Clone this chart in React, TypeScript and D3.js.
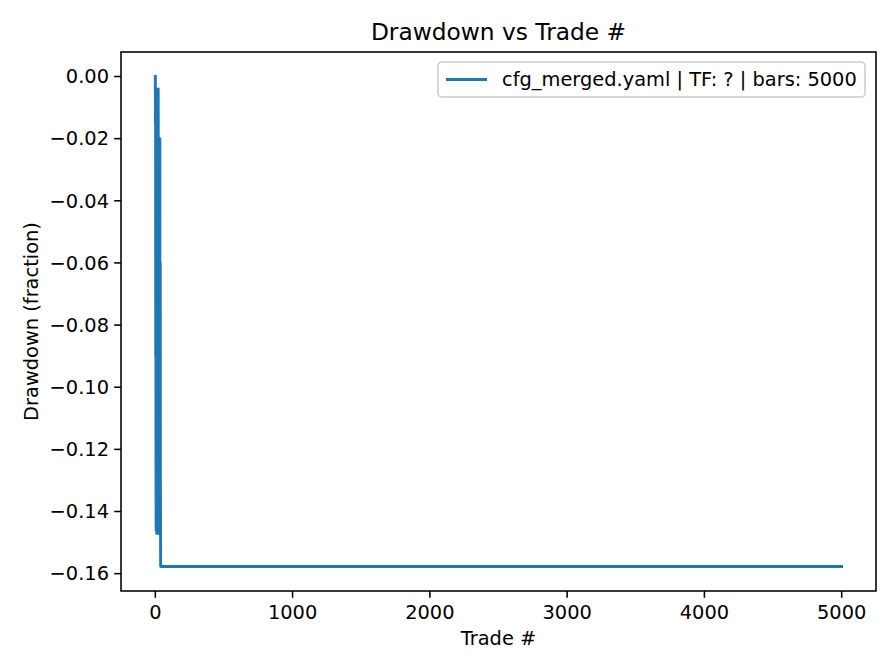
import React, { useEffect, useRef } from "react";
import * as d3 from "d3";

// drawdown per trade, early part (trade 0..39)
const earlyDrawdown = [
  0, -0.015, -0.008, -0.09, -0.045, -0.128, -0.146, -0.062, -0.021, -0.11,
  -0.147, -0.083, -0.035, -0.124, -0.146, -0.058, -0.012, -0.097, -0.145,
  -0.07, -0.018, -0.004, -0.06, -0.139, -0.147, -0.088, -0.03, -0.122,
  -0.146, -0.06, -0.112, -0.14, -0.075, -0.02, -0.118, -0.147, -0.06,
  -0.13, -0.145, -0.1577,
];
// after that the curve stays flat until the last trade
const tailTrades = [4999];
const tailDrawdown = [-0.1577];

const xTicks = [0, 1000, 2000, 3000, 4000, 5000];
const yTicks = [0, -0.02, -0.04, -0.06, -0.08, -0.1, -0.12, -0.14, -0.16];
const legendLabel = "cfg_merged.yaml | TF: ? | bars: 5000";

const App = () => {
  const ref = useRef<SVGSVGElement>(null);

  useEffect(() => {
    const width = 896;
    const height = 672;
    const left = 121, right = 876, top = 52, bottom = 591;
    const font = "DejaVu Sans, sans-serif";

    const points: [number, number][] = earlyDrawdown.map((v, i) => [i, v]);
    tailTrades.forEach((t, i) => points.push([t, tailDrawdown[i]]));

    const x = d3.scaleLinear().domain([-250, 5250]).range([left, right]);
    const yMin = d3.min(points, d => d[1]) as number;
    const pad = (0 - yMin) * 0.05;
    const y = d3.scaleLinear().domain([yMin - pad, 0 + pad]).range([bottom, top]);

    const svg = d3.select(ref.current)
      .attr("width", width)
      .attr("height", height)
      .style("font-family", font);
    svg.selectAll("*").remove();

    svg.append("rect").attr("width", width).attr("height", height).attr("fill", "#fff");

    const line = d3.line<[number, number]>()
      .x(d => x(d[0]))
      .y(d => y(d[1]));

    svg.append("defs").append("clipPath").attr("id", "clip")
      .append("rect")
      .attr("x", left).attr("y", top)
      .attr("width", right - left).attr("height", bottom - top);

    svg.append("path")
      .datum(points)
      .attr("clip-path", "url(#clip)")
      .attr("fill", "none")
      .attr("stroke", "#1f77b4")
      .attr("stroke-width", 2.9)
      .attr("stroke-linejoin", "round")
      .attr("stroke-linecap", "square")
      .attr("d", line);

    const fmt = (v: number) => d3.format(".2f")(v).replace("-", "\u2212");

    // x axis ticks
    const xt = svg.append("g").selectAll("g").data(xTicks).join("g")
      .attr("transform", d => `translate(${x(d)},${bottom})`);
    xt.append("line").attr("y2", 6.8).attr("stroke", "#000").attr("stroke-width", 1.55);
    xt.append("text")
      .attr("y", 28)
      .attr("text-anchor", "middle")
      .attr("font-size", 19.4)
      .text(d => d);

    // y axis ticks
    const yt = svg.append("g").selectAll("g").data(yTicks).join("g")
      .attr("transform", d => `translate(${left},${y(d)})`);
    yt.append("line").attr("x2", -6.8).attr("stroke", "#000").attr("stroke-width", 1.55);
    yt.append("text")
      .attr("x", -12)
      .attr("dy", "0.35em")
      .attr("text-anchor", "end")
      .attr("font-size", 19.4)
      .text(d => fmt(d));

    // frame
    svg.append("rect")
      .attr("x", left).attr("y", top)
      .attr("width", right - left).attr("height", bottom - top)
      .attr("fill", "none")
      .attr("stroke", "#000")
      .attr("stroke-width", 1.55);

    svg.append("text")
      .attr("x", (left + right) / 2)
      .attr("y", 40)
      .attr("text-anchor", "middle")
      .attr("font-size", 23.3)
      .text("Drawdown vs Trade #");

    svg.append("text")
      .attr("x", (left + right) / 2)
      .attr("y", 645)
      .attr("text-anchor", "middle")
      .attr("font-size", 19.4)
      .text("Trade #");

    svg.append("text")
      .attr("transform", `translate(38,${(top + bottom) / 2}) rotate(-90)`)
      .attr("text-anchor", "middle")
      .attr("font-size", 19.4)
      .text("Drawdown (fraction)");

    // legend
    const lg = svg.append("g");
    lg.append("rect")
      .attr("x", 438).attr("y", 62)
      .attr("width", 427).attr("height", 35)
      .attr("rx", 4)
      .attr("fill", "#fff").attr("fill-opacity", 0.8)
      .attr("stroke", "#cccccc").attr("stroke-width", 1.55);
    lg.append("line")
      .attr("x1", 446).attr("x2", 487)
      .attr("y1", 79.5).attr("y2", 79.5)
      .attr("stroke", "#1f77b4").attr("stroke-width", 2.9);
    lg.append("text")
      .attr("x", 502).attr("y", 79.5)
      .attr("dy", "0.35em")
      .attr("font-size", 19.4)
      .text(legendLabel);
  }, []);

  return <svg ref={ref} style={{ position: "absolute", left: 0, top: 0 }}></svg>;
};

export default App;
